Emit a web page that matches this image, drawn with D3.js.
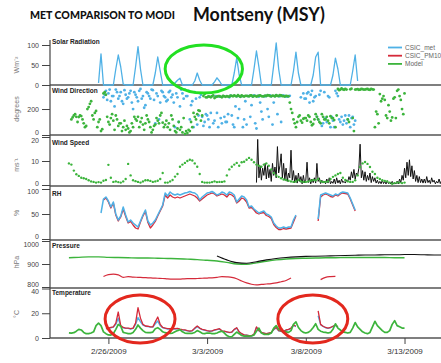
<!DOCTYPE html>
<html><head><meta charset="utf-8">
<script src="https://cdn.jsdelivr.net/npm/d3@7"></script>
<style>body{margin:0;background:#fff}svg{display:block}</style>
</head><body>
<svg id="chart" width="441" height="363"></svg>
<script>
// ---- data: 3-hourly unless noted, each row = one day (00,03,...,21 UTC) ----
const solarMet = { start: "2009-02-25 00:00", step: 3, values: [
  null,null,null,null,5,78,0,0,
  0,0,0,40,75,45,2,0,
  0,0,0,45,96,40,0,0,
  0,0,0,30,70,35,0,0,
  0,0,0,5,12,17,0,0,
  0,0,0,10,30,12,0,0,
  0,0,0,8,18,10,0,0,
  0,0,0,30,68,25,0,0,
  0,0,0,40,85,45,0,0,
  0,0,0,50,105,40,0,0,
  0,0,0,35,82,30,0,0,
  0,0,0,25,70,82,0,0,
  0,0,0,25,67,40,0,0,
  0,0,0,35,75,10 ]};

// wind direction: two sample sets per source, on the hour and at half past
const windDirModel = { start: "2009-02-24 00:00", step: 3, values: [
  null,120,150,140,138,146,90,70,
  215,260,120,185,100,30,320,310,
  100,130,110,150,70,90,60,40,
  50,30,60,123,140,100,80,90,
  120,60,40,80,110,150,95,80,
  60,40,120,30,50,40,20,8,
  15,30,60,140,160,185,150,315,
  290,295,300,285,295,300,290,298,
  300,295,302,305,298,300,305,296,
  302,298,305,300,296,303,300,298,
  300,305,298,302,306,300,304,300,
  302,298,200,120,60,140,110,125,
  130,150,100,85,160,120,90,140,
  120,110,145,130,60,355,350,352,
  355,120,352,130,350,354,349,353,
  350,355,348,352,60,160,315,280,
  270,130,180,135,290,340,300,200,
  320 ]};
const windDirModelB = { start: "2009-02-24 01:30", step: 3, values: [
  null,135,160,100,150,120,60,200,
  240,150,170,60,120,45,330,140,
  80,160,40,120,90,30,110,70,
  20,90,140,110,60,130,40,150,
  100,20,70,130,90,170,60,110,
  90,150,70,20,100,60,130,30,
  40,100,170,120,190,110,300,290,
  298,290,305,292,300,296,302,294,
  296,303,298,300,306,294,300,302,
  300,304,296,302,299,305,297,303,
  306,300,303,297,301,307,299,296,
  300,250,170,90,100,150,95,130,
  110,140,75,120,140,100,160,120,
  140,90,130,115,150,345,358,348,
  350,100,356,30,352,348,355,350,
  353,349,355,350,180,90,260,300,
  150,230,110,280,130,350,270,160 ]};

const windDirMet = { start: "2009-02-25 00:00", step: 3, values: [
  null,null,null,null,null,null,290,340,
  320,260,300,350,280,330,240,310,
  290,340,200,310,260,355,300,230,
  320,280,345,90,300,250,330,290,
  270,340,310,60,290,220,320,350,
  300,120,260,330,80,290,140,100,
  150,60,300,110,170,295,90,140,
  100,290,150,60,298,200,300,120,
  80,300,230,305,50,296,180,300,
  302,140,298,250,305,300,100,303,
  298,300,null,null,null,null,290,320,
  280,330,310,260,300,120,340,90,
  130,300,60,110,340,300,100,80,
  150,120,60,140,110 ]};
const windDirMetB = { start: "2009-02-25 01:30", step: 3, values: [
  null,null,null,null,null,null,310,270,
  350,300,220,330,300,260,345,280,
  320,250,330,290,340,280,210,330,
  300,350,270,320,120,340,300,260,
  330,290,250,320,100,350,280,300,
  340,230,60,280,150,310,70,160,
  120,170,90,300,60,130,300,100,
  160,303,80,220,130,295,60,260,
  300,140,296,90,302,250,120,298,
  200,305,80,300,160,298,303,300,
  295,302,null,null,null,null,null,280,
  320,250,340,290,140,310,70,330,
  100,290,140,60,320,120,140,110,
  90,150,130,80 ]};

const windSpdModel = { start: "2009-02-24 00:00", step: 3, values: [
  9.0,8.5,6.0,4.5,3.8,3.0,2.8,2.5,
  2.0,1.5,1.3,1.0,1.2,1.0,1.8,2.1,
  8.4,3.0,1.3,1.5,1.2,1.0,1.5,2.5,
  8.8,4.0,2.0,1.6,1.3,1.0,1.5,2.0,
  2.0,1.7,1.3,1.5,1.8,2.5,5.0,1.0,
  1.0,1.5,2.1,3.5,4.6,7.6,8.5,9.2,
  10.0,10.5,10.2,9.0,7.6,4.6,1.3,1.0,
  1.0,1.0,1.2,1.5,1.2,1.3,1.3,1.5,
  4.0,6.5,7.6,8.5,9.2,8.0,9.5,9.7,
  10.5,11.3,10.5,9.5,8.5,8.0,7.6,8.5,
  9.0,8.0,6.5,5.0,4.0,3.4,2.8,2.3,
  2.1,1.8,1.5,1.3,1.5,2.1,1.5,1.3,
  1.3,1.5,1.8,2.1,2.0,2.5,1.5,1.3,
  1.3,1.5,2.5,3.4,4.0,4.6,5.0,3.0,
  2.1,1.5,1.3,1.3,2.0,4.0,7.5,9.0,
  9.6,8.8,7.5,5.5,4.6,3.0,2.5,2.0,
  1.7,1.5,1.0,0.5,0.8,1.0,1.0,0.8,
  1.0 ]};

// station wind speed, every 1.5 h (16 per day)
const windSpdStation = { start: "2009-03-05 12:00", step: 1.5, values: [
  1.0,19.0,3.0,8.0,2.0,7.0,4.0,9.0,
  2.5,8.0,3.0,6.5,1.5,9.0,4.0,7.5,3.0,16.0,5.0,8.0,13.0,3.0,9.0,2.0,
  7.0,1.5,5.0,3.0,14.5,2.0,6.0,1.0,4.0,0.8,5.0,1.5,3.5,0.5,4.0,1.0,
  2.0,9.5,1.0,3.0,0.5,2.5,1.0,3.0,0.8,9.0,1.5,3.0,0.6,2.0,0.8,1.5,
  0.5,2.5,0.8,3.0,0.5,1.5,0.7,2.5,0.5,3.0,0.8,2.0,0.5,2.5,1.0,1.5,
  0.8,2.0,1.5,3.5,2.0,5.5,3.0,6.5,2.5,5.0,4.0,7.0,17.0,3.0,6.0,2.0,
  5.5,1.5,4.0,2.0,5.0,1.0,3.5,1.5,3.0,0.8,2.0,0.6,1.5,0.5,2.0,0.6,
  1.5,0.4,1.8,0.6,1.2,0.4,1.5,0.5,1.0,0.4,1.6,0.5,2.5,1.0,4.0,2.0,
  7.0,3.0,9.5,4.0,10.5,3.5,8.0,2.5,6.0,1.5,4.0,1.0,3.5,1.0,2.5,0.8,
  2.5,0.8,3.5,1.0,2.0,0.6,3.0,1.2,2.0,0.5,1.5,0.8,2.5,0.6,1.8,0.7,
  1.5 ]};

const rhMet = { start: "2009-02-25 00:00", step: 3, values: [
  null,null,null,null,null,52,80,84,
  76,64,74,50,38,46,64,48,
  34,38,32,28,24,36,48,58,
  36,28,32,38,48,58,68,92,
  86,94,90,88,90,88,90,92,
  93,95,93,92,88,78,84,88,
  92,93,95,92,88,90,94,92,
  88,94,92,88,74,80,86,84,
  78,64,66,60,56,52,54,56,
  50,48,44,32,26,22,22,24,
  22,24,24,38,48,null,null,null,
  null,null,null,null,null,40,88,90,
  92,90,88,86,90,88,92,94,
  93,92,82,70,58 ]};

const rhPM = { start: "2009-02-25 00:00", step: 3, values: [
  null,null,null,null,null,null,78,82,
  74,62,72,48,36,44,60,45,
  32,35,28,22,20,34,46,55,
  33,22,28,35,46,56,66,88,
  82,88,84,82,84,82,84,86,
  88,90,88,86,82,76,80,84,
  88,90,92,90,86,88,90,88,
  84,90,88,84,72,76,82,80,
  74,62,63,58,52,50,52,53,
  47,45,41,29,23,19,19,21,
  20,21,22,34,46,null,null,null,
  null,null,null,null,null,36,84,88,
  90,88,85,84,88,86,90,92,
  91,90,80,68,56 ]};

// pressure: model and station 12-hourly, PM site 6-hourly
const pressModel = { start: "2009-02-24 00:00", step: 12, values: [
  927,929,931,931,929,928,927,926,926,925,924,923,921,919,916,913,907,900,
  899,905,912,918,922,924,925,926,927,927,928,928,928,928,928,927,927 ]};

const pressStation = { start: "2009-03-03 12:00", step: 12, values: [
  935,918,906,903,910,918,924,928,931,933,934,935,936,937,938,939,939,940,
  940,941,941,940,939,939 ]};

const pressPM = { start: "2009-02-25 18:00", step: 6, values: [
  846,
  854,856,853,842,
  845,843,842,841,
  840,839,838,837,
  835,834,834,835,
  836,836,837,838,
  839,840,842,845,
  844,842,836,826,
  818,812,809,811,
  813,815,818,823,
  828,839,null,null,
  null,null,null,832,
  842,845,846 ]};

const tempModel = { start: "2009-02-24 00:00", step: 3, values: [
  4.2,4.0,4.3,5.5,7.0,6.5,4.5,3.5,
  3.5,4.0,5.0,10.0,12.0,10.0,5.0,3.5,
  2.5,2.4,3.5,7.0,11.0,9.5,4.5,4.0,
  3.5,3.5,4.5,7.0,10.5,8.0,6.0,4.5,
  4.3,4.3,4.8,7.5,8.3,7.0,5.0,4.3,
  4.0,3.8,4.0,5.0,6.0,6.7,5.0,4.0,
  3.8,3.8,3.8,4.5,6.0,5.0,3.8,3.5,
  4.0,4.0,3.5,3.5,4.0,5.0,5.5,4.0,
  2.0,1.0,1.0,3.0,4.8,3.5,2.0,1.5,
  1.5,1.5,1.6,2.5,5.5,8.0,4.0,3.0,
  3.0,3.0,4.0,8.0,10.0,7.0,6.0,5.5,
  5.0,4.5,6.0,11.0,13.0,8.5,6.0,4.5,
  4.0,4.5,6.0,8.5,11.5,7.0,5.5,4.8,
  4.5,4.0,4.5,7.0,11.5,8.0,6.5,5.0,
  4.5,4.0,4.5,8.0,12.5,9.0,7.0,5.0,
  4.0,3.5,4.5,9.0,13.5,10.0,8.0,6.0,
  4.5,4.5,6.0,11.0,14.0,10.0,9.0,8.0,
  8.0 ]};

const tempMet = { start: "2009-02-25 00:00", step: 3, values: [
  null,null,null,null,null,null,null,7.5,
  7.8,8.2,8.8,11.0,16.0,9.5,8.2,7.8,
  7.8,7.2,7.8,11.0,16.5,13.0,10.5,9.5,
  9.2,8.8,8.8,11.5,13.7,10.0,8.3,7.8,
  7.3,7.3,7.3,7.3,7.6,7.0,6.6,6.3,
  5.8,5.5,5.8,7.6,9.2,7.8,6.8,6.3,
  5.8,5.5,5.6,6.3,6.8,7.2,5.6,5.3,
  4.8,4.3,4.6,6.8,8.0,4.8,3.3,2.3,
  2.2,1.8,1.8,2.8,8.5,5.8,4.3,3.8,
  3.3,3.8,4.3,6.8,8.2,5.8,5.3,5.3,
  6.3,6.8,7.8,10.2,9.3,null,null,null,
  null,null,null,null,null,18.0,10.8,9.3,
  8.3,7.8,8.3,9.3,10.2,8.8 ]};

const tempPM = { start: "2009-02-25 00:00", step: 3, values: [
  null,null,null,null,null,null,null,8.0,
  8.0,8.5,9.0,12.0,21.0,10.0,8.5,8.0,
  8.0,7.5,8.0,12.0,24.5,16.0,11.0,9.7,
  9.5,9.0,9.0,13.0,17.0,11.0,8.5,8.0,
  7.5,7.5,7.5,7.5,7.8,7.2,6.8,6.5,
  6.0,5.6,6.0,8.0,9.7,8.0,7.0,6.5,
  6.0,5.6,5.8,6.5,7.0,7.5,5.8,5.5,
  5.0,4.5,4.8,7.0,8.3,5.0,3.5,2.5,
  2.4,2.0,2.0,3.0,9.0,6.0,4.5,4.0,
  3.5,4.0,4.5,7.0,8.5,6.0,5.5,5.5,
  6.5,7.0,8.0,10.5,9.5,null,null,null,
  null,null,null,null,null,22.0,11.0,9.5,
  8.5,8.0,8.5,9.5,10.5,9.0 ]};

const dateTicks = ["2009-02-26 00:00", "2009-03-03 00:00", "2009-03-08 00:00", "2009-03-13 00:00"];
const legendItems = [
  { name: "CSIC_met", color: "#4fb1e6" },
  { name: "CSIC_PM10", color: "#d52a3a" },
  { name: "Model", color: "#3cb43c" }
];

// ---- setup ----
const parseT = d3.utcParse("%Y-%m-%d %H:%M");
const series = s => s.values.map((v, i) => ({ t: d3.utcMinute.offset(parseT(s.start), Math.round(i * s.step * 60)), v }));
const COL = { met: "#4fb1e6", pm: "#d52a3a", model: "#3cb43c", station: "#111111" };

const svg = d3.select("#chart");
const X0 = 50, X1 = 441;
const x = d3.scaleUtc().domain([parseT("2009-02-23 01:00"), parseT("2009-03-15 00:00")]).range([X0, 444]);

// labelNudge moves a tick label (px) where neighbouring panels share an edge
const panels = {
  solar: { title: "Solar Radiation", unit: "Wm\u207B\u00B2", dom: [0, 100], rng: [85, 45], ticks: [0, 50, 100], bottom: 85, titleY: 44, unitY: 65, labelNudge: {} },
  wdir:  { title: "Wind Direction", unit: "degrees", dom: [0, 385], rng: [135, 85], ticks: [0, 200], bottom: 135, titleY: 93, unitY: 109, labelNudge: { 0: -3 } },
  wspd:  { title: "Wind Speed", unit: "ms\u207B\u00B9", dom: [0, 20], rng: [185, 137], ticks: [0, 10, 20], bottom: 186, titleY: 145, unitY: 165, labelNudge: { 20: 3, 0: -2 } },
  rh:    { title: "RH", unit: "%", dom: [0, 100], rng: [239, 189], ticks: [0, 50, 100], bottom: 240, titleY: 196, unitY: 213, labelNudge: { 0: -3, 100: 2 } },
  press: { title: "Pressure", unit: "hPa", dom: [800, 1000], rng: [287, 241], ticks: [800, 900, 1000], bottom: 288, titleY: 248, unitY: 262, labelNudge: { 1000: 3, 800: -3 } },
  temp:  { title: "Temperature", unit: "\u00B0C", dom: [0, 40], rng: [338, 288.5], ticks: [0, 20, 40], bottom: 338, titleY: 295, unitY: 314, labelNudge: { 40: 3 } }
};
Object.values(panels).forEach(p => p.y = d3.scaleLinear().domain(p.dom).range(p.rng));

const tickFont = "'Liberation Sans', Arial, sans-serif";

// title
svg.append("text").attr("x", 30).attr("y", 19)
  .attr("font-family", "Lato, sans-serif").attr("font-weight", 900).attr("font-size", 10.5)
  .attr("textLength", 145).attr("lengthAdjust", "spacingAndGlyphs").attr("fill", "#111")
  .text("MET COMPARISON TO MODI");
svg.append("text").attr("x", 193).attr("y", 21)
  .attr("font-family", "Lato, sans-serif").attr("font-weight", 700).attr("font-size", 18)
  .attr("textLength", 132).attr("lengthAdjust", "spacingAndGlyphs").attr("fill", "#111")
  .text("Montseny (MSY)");

// panel frames, axes and labels
const g = svg.append("g");
Object.values(panels).forEach(p => {
  g.append("line").attr("x1", X0).attr("x2", X1).attr("y1", p.bottom).attr("y2", p.bottom)
    .attr("stroke", "#555").attr("stroke-width", 1.4);
  const ax = g.append("g").attr("transform", `translate(${X0},0)`)
    .call(d3.axisLeft(p.y).tickValues(p.ticks).tickSize(8).tickPadding(3).tickFormat(d3.format("d")));
  ax.select(".domain").remove();
  ax.selectAll("line").attr("stroke", "#444");
  ax.selectAll("text").attr("font-family", tickFont).attr("font-size", 7).attr("fill", "#444")
    .attr("dy", d => (0.32 + (p.labelNudge[d] || 0) / 7) + "em");
  g.append("text").attr("x", X0 + 2).attr("y", p.titleY).text(p.title)
    .attr("font-family", tickFont).attr("font-weight", "bold").attr("font-size", 6.5).attr("fill", "#222");
  g.append("text").attr("transform", `translate(19,${p.unitY}) rotate(-90)`).attr("text-anchor", "middle")
    .attr("font-family", tickFont).attr("font-size", 7).attr("fill", "#777").text(p.unit);
});
g.append("line").attr("x1", X0).attr("x2", X0).attr("y1", 40).attr("y2", 338).attr("stroke", "#444").attr("stroke-width", 1.2);

// time axis
const xa = svg.append("g").attr("transform", "translate(0,338)")
  .call(d3.axisBottom(x).tickValues(dateTicks.map(parseT)).tickSize(6).tickPadding(4)
    .tickFormat(d3.utcFormat("%-m/%-d/%Y")));
xa.select(".domain").remove();
xa.selectAll("line").attr("stroke", "#444");
xa.selectAll("text").attr("font-family", tickFont).attr("font-size", 8).attr("fill", "#333");

// drawing helpers
const plot = svg.append("g");
function drawLine(p, s, color, width, curve) {
  const line = d3.line().defined(d => d.v != null).x(d => x(d.t)).y(d => p.y(d.v));
  if (curve) line.curve(curve);
  plot.append("path").datum(series(s)).attr("d", line)
    .attr("fill", "none").attr("stroke", color).attr("stroke-width", width).attr("stroke-linejoin", "round");
}
function drawDots(p, s, color, r) {
  plot.append("g").selectAll("circle").data(series(s).filter(d => d.v != null)).join("circle")
    .attr("cx", d => x(d.t)).attr("cy", d => p.y(d.v)).attr("r", r).attr("fill", color);
}

drawLine(panels.solar, solarMet, COL.met, 1.3);

drawDots(panels.wdir, windDirMet, COL.met, 1.4);
drawDots(panels.wdir, windDirMetB, COL.met, 1.4);
drawDots(panels.wdir, windDirModel, COL.model, 1.4);
drawDots(panels.wdir, windDirModelB, COL.model, 1.4);

drawLine(panels.wspd, windSpdStation, COL.station, 1.0);
drawDots(panels.wspd, windSpdModel, COL.model, 1.2);

drawLine(panels.rh, rhPM, COL.pm, 1.3);
drawLine(panels.rh, rhMet, COL.met, 1.5);

drawLine(panels.press, pressModel, COL.model, 1.4, d3.curveMonotoneX);
drawLine(panels.press, pressStation, COL.station, 1.1, d3.curveMonotoneX);
drawLine(panels.press, pressPM, COL.pm, 1.2, d3.curveMonotoneX);

drawLine(panels.temp, tempMet, COL.met, 1.4);
drawLine(panels.temp, tempPM, COL.pm, 1.3);
drawLine(panels.temp, tempModel, COL.model, 1.7);

// legend
const lg = svg.append("g");
legendItems.forEach((d, i) => {
  const yy = 47.5 + i * 8.2;
  lg.append("line").attr("x1", 388).attr("x2", 402).attr("y1", yy).attr("y2", yy)
    .attr("stroke", d.color).attr("stroke-width", 1.8);
  lg.append("text").attr("x", 405).attr("y", yy + 2.3).text(d.name)
    .attr("font-family", tickFont).attr("font-size", 6.5).attr("fill", "#666");
});

// highlight rings
const rings = [
  { panel: "solar", t0: "2009-02-28 21:00", t1: "2009-03-04 19:00", v0: -20, v1: 100, color: "#22e022" },
  { panel: "temp",  t0: "2009-02-25 20:00", t1: "2009-03-01 09:00", v0: -4, v1: 34.7, color: "#e3281e" },
  { panel: "temp",  t0: "2009-03-06 14:00", t1: "2009-03-10 03:00", v0: -4, v1: 34.7, color: "#e3281e" }
];
rings.forEach(r => {
  const p = panels[r.panel];
  const xa0 = x(parseT(r.t0)), xa1 = x(parseT(r.t1));
  const ya0 = p.y(r.v0), ya1 = p.y(r.v1);
  svg.append("ellipse").attr("cx", (xa0 + xa1) / 2).attr("cy", (ya0 + ya1) / 2)
    .attr("rx", Math.abs(xa1 - xa0) / 2).attr("ry", Math.abs(ya0 - ya1) / 2)
    .attr("fill", "none").attr("stroke", r.color).attr("stroke-width", 3);
});
</script>
</body></html>
